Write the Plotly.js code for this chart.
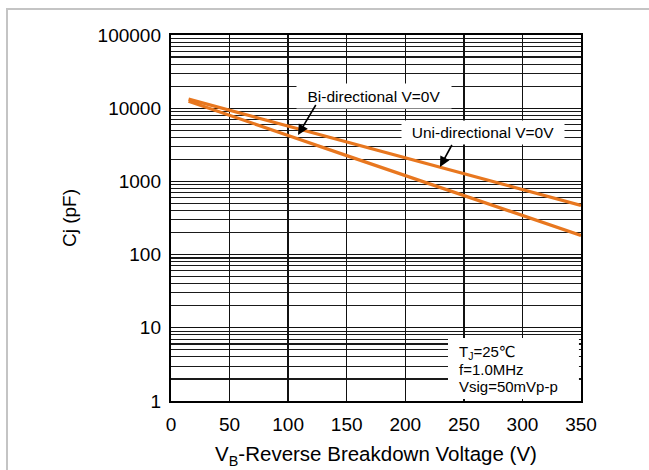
<!DOCTYPE html>
<html>
<head>
<meta charset="utf-8">
<script src="https://cdn.plot.ly/plotly-3.0.1.min.js"></script>
<style>
  html, body { margin: 0; padding: 0; background: #fff; }
  #chart { width: 649px; height: 470px; }
</style>
</head>
<body>
<div id="chart"></div>
<script>
// Breakdown voltage (V)
const voltage = [15, 50, 100, 150, 200, 250, 300, 350];
// Junction capacitance (pF)
const uniCj = [13300, 9400, 5700, 3500, 2100, 1280, 780, 470];
const biCj  = [12400, 7900, 4250, 2250, 1200, 645, 345, 183];

const xTicks = [0, 50, 100, 150, 200, 250, 300, 350];
const yTicks = [1, 10, 100, 1000, 10000, 100000];
const yTickText = ['1', '10', '100', '1000', '10000', '100000'];

const FONT = 'Liberation Sans, Arial, DejaVu Sans, sans-serif';
const ORANGE = '#E8771F';

const traces = [
  { x: voltage, y: uniCj, mode: 'lines', name: 'Uni-directional V=0V',
    line: { color: ORANGE, width: 3.2 }, hoverinfo: 'skip' },
  { x: voltage, y: biCj, mode: 'lines', name: 'Bi-directional V=0V',
    line: { color: ORANGE, width: 3.2 }, hoverinfo: 'skip' }
];

const layout = {
  width: 649, height: 470,
  margin: { l: 171, r: 68, t: 35, b: 69, pad: 0 },
  paper_bgcolor: '#fff', plot_bgcolor: '#fff',
  showlegend: false,
  font: { family: FONT, color: '#000', size: 19 },
  xaxis: {
    range: [0, 350], tickvals: xTicks, ticks: '',
    showgrid: true, gridcolor: '#111', gridwidth: 1.4,
    zeroline: false, showline: true, mirror: true, linecolor: '#000', linewidth: 2.2,
    tickfont: { size: 19, family: FONT }, ticklabelstandoff: 5,
    title: { text: 'V<sub>B</sub>-Reverse Breakdown Voltage (V)', font: { size: 20.5, family: FONT }, standoff: 13 }
  },
  yaxis: {
    type: 'log', range: [0, 5], tickvals: yTicks, ticktext: yTickText, ticks: '',
    showgrid: true, gridcolor: '#111', gridwidth: 1.3,
    minor: { dtick: 'D1', showgrid: true, gridcolor: '#1a1a1a', gridwidth: 1.1, ticks: '' },
    zeroline: false, showline: true, mirror: true, linecolor: '#000', linewidth: 2.2,
    tickfont: { size: 19, family: FONT }, ticklabelstandoff: 4,
    title: { text: 'Cj (pF)', font: { size: 19, family: FONT }, standoff: 16 }
  },
  shapes: [
    { type: 'path', xref: 'paper', yref: 'paper', layer: 'above',
      path: 'M -0.4,-0.5 L -0.4,1.071 L 1.5,1.071',
      line: { color: '#c4c4c4', width: 2 } },
    { type: 'rect', xref: 'paper', yref: 'paper', layer: 'above',
      x0: 0.6756, x1: 0.995, y0: 0.0055, y1: 0.172,
      fillcolor: '#fff', line: { width: 0 } }
  ],
  annotations: [
    { xref: 'x', yref: 'y', x: 173.3, y: Math.log10(14680), text: 'Bi-directional V=0V',
      showarrow: false, bgcolor: '#fff', width: 152, height: 22,
      font: { size: 15.5, family: FONT, color: '#000' } },
    { xref: 'x', yref: 'y', x: 266.3, y: Math.log10(4656), text: 'Uni-directional V=0V',
      showarrow: false, bgcolor: '#fff', width: 160, height: 21,
      font: { size: 15.5, family: FONT, color: '#000' } },
    { xref: 'x', yref: 'y', x: 108.4, y: Math.log10(4305), text: ' ',
      showarrow: true, ax: 19, ay: -32, arrowhead: 2, arrowsize: 1.3, arrowwidth: 1.6,
      arrowcolor: '#000', standoff: 0, font: { size: 1 } },
    { xref: 'x', yref: 'y', x: 229.6, y: Math.log10(1573), text: ' ',
      showarrow: true, ax: 13, ay: -24, arrowhead: 2, arrowsize: 1.3, arrowwidth: 1.6,
      arrowcolor: '#000', standoff: 0, font: { size: 1 } },
    { xref: 'paper', yref: 'paper', x: 0.6976, y: (401 - 352) / 366, xanchor: 'left', yanchor: 'middle',
      text: 'T<sub>J</sub>=25℃', showarrow: false, font: { size: 15, family: FONT, color: '#000' } },
    { xref: 'paper', yref: 'paper', x: 0.6976, y: (401 - 369) / 366, xanchor: 'left', yanchor: 'middle',
      text: 'f=1.0MHz', showarrow: false, font: { size: 15, family: FONT, color: '#000' } },
    { xref: 'paper', yref: 'paper', x: 0.6976, y: (401 - 386) / 366, xanchor: 'left', yanchor: 'middle',
      text: 'Vsig=50mVp-p', showarrow: false, font: { size: 15, family: FONT, color: '#000' } }
  ]
};

Plotly.newPlot('chart', traces, layout, { staticPlot: true, displayModeBar: false });
</script>
</body>
</html>
